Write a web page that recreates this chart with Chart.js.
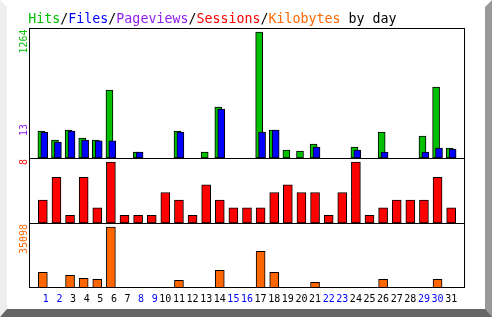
<!DOCTYPE html>
<html>
<head>
<meta charset="utf-8">
<script src="https://cdn.jsdelivr.net/npm/chart.js@4"></script>
<style>
    html, body { margin: 0; padding: 0; background: #fff; }
    .frame {
        width: 492px;
        height: 317px;
        box-sizing: border-box;
        border-style: solid;
        border-width: 7px 7px 8px 7px;
        border-color: #ffffff #999999 #666666 #eeeeee;
        background: #fff;
    }
    canvas { display: block; }
</style>
</head>
<body>
<div class="frame"><canvas id="dailyChart" width="478" height="302"></canvas></div>
<script>
// Daily values
const days = [1, 2, 3, 4, 5, 6, 7, 8, 9, 10, 11, 12, 13, 14, 15, 16, 17, 18, 19, 20, 21, 22, 23, 24, 25, 26, 27, 28, 29, 30, 31];
const weekendDays = [1, 2, 8, 9, 15, 16, 22, 23, 29, 30];
const hits = [271, 181, 281, 201, 181, 682, 0, 60, 0, 0, 271, 0, 60, 512, 0, 0, 1264, 281, 80, 70, 140, 0, 0, 110, 0, 261, 0, 0, 221, 712, 100];
const files = [258, 160, 271, 181, 171, 171, 0, 60, 0, 0, 261, 0, 0, 492, 0, 0, 261, 281, 0, 0, 110, 0, 0, 80, 0, 60, 0, 0, 60, 100, 90];
const sessions = [3, 6, 1, 6, 2, 8, 1, 1, 1, 4, 3, 1, 5, 3, 2, 2, 2, 4, 5, 4, 4, 1, 4, 8, 1, 2, 3, 3, 3, 6, 2];
const kilobytes = [9030, 0, 7300, 5580, 5000, 35098, 0, 0, 0, 0, 4430, 0, 0, 10180, 0, 0, 21100, 9030, 0, 0, 3280, 0, 0, 0, 0, 5000, 0, 0, 0, 5000, 0];

// Max labels drawn beside each panel
const hitsMaxLabel = '1264';
const pageviewsMaxLabel = '13';
const sessionsMaxLabel = '8';
const kilobytesMaxLabel = '35098';

const seriesNames = ['Hits', 'Files', 'Pageviews', 'Sessions', 'Kilobytes'];

// Colours
const COLORS = {
    hits: '#00c000',
    files: '#0000ff',
    pageviews: '#9020f0',
    sessions: '#ff0000',
    kilobytes: '#ff6600'
};
const MONO = '"DejaVu Sans Mono", "Liberation Mono", monospace';

// hits and files sit a little left/right of the day centre
const PAIR_SHIFT = 0.107;

function barSet(label, values, color, axis, shift, thickness) {
    return {
        label: label,
        data: days.map((d, i) => ({ x: d + shift, y: values[i] })),
        backgroundColor: color,
        borderColor: '#000',
        borderWidth: 1,
        borderSkipped: false,
        barThickness: thickness,
        grouped: false,
        yAxisID: axis
    };
}

function panelAxis(weight, max) {
    return {
        position: 'left',
        stack: 'day',
        stackWeight: weight,
        min: 0,
        max: max,
        ticks: { display: false },
        grid: { display: false },
        border: { display: false },
        afterFit: (s) => { s.width = 0; }
    };
}

// Frame round the plot and the lines between panels
const framePlugin = {
    id: 'frame',
    afterDatasetsDraw(chart) {
        const { ctx, chartArea: a, scales } = chart;
        const l = Math.round(a.left) + 0.5;
        const r = Math.round(a.right) - 0.5;
        ctx.save();
        ctx.strokeStyle = '#000';
        ctx.lineWidth = 1;
        ctx.strokeRect(l, Math.round(a.top) + 0.5, r - l, Math.round(a.bottom) - Math.round(a.top) - 1);
        [scales.ySessions, scales.yKilobytes].forEach(s => {
            const y = Math.round(s.top) + 0.5;
            ctx.beginPath();
            ctx.moveTo(l, y);
            ctx.lineTo(r, y);
            ctx.stroke();
        });
        ctx.restore();
    }
};

// Title and the rotated max labels
const labelPlugin = {
    id: 'labels',
    afterDraw(chart) {
        const { ctx, scales } = chart;
        ctx.save();
        ctx.font = '13.3px ' + MONO;
        ctx.textBaseline = 'alphabetic';
        ctx.textAlign = 'left';
        const parts = [];
        const keys = ['hits', 'files', 'pageviews', 'sessions', 'kilobytes'];
        seriesNames.forEach((name, i) => {
            if (i > 0) parts.push(['/', '#000']);
            parts.push([name, COLORS[keys[i]]]);
        });
        parts.push([' by day', '#000']);
        let x = 21.3;
        parts.forEach(([text, color]) => {
            ctx.fillStyle = color;
            ctx.fillText(text, x, 16);
            x += ctx.measureText(text).width;
        });

        ctx.font = '10px ' + MONO;
        const side = [
            [hitsMaxLabel, COLORS.hits, scales.yHits.top + 1.5],
            [pageviewsMaxLabel, COLORS.pageviews, scales.yHits.bottom - 34],
            [sessionsMaxLabel, COLORS.sessions, scales.ySessions.top + 1],
            [kilobytesMaxLabel, COLORS.kilobytes, scales.yKilobytes.top + 1]
        ];
        side.forEach(([text, color, y]) => {
            ctx.save();
            ctx.translate(19.5, y);
            ctx.rotate(-Math.PI / 2);
            ctx.textAlign = 'right';
            ctx.fillStyle = color;
            ctx.fillText(text, 0, 0);
            ctx.restore();
        });
        ctx.restore();
    }
};

const ctx = document.getElementById('dailyChart').getContext('2d');
const chart = new Chart(ctx, {
    type: 'bar',
    data: {
        datasets: [
            barSet('Files', files, COLORS.files, 'yHits', PAIR_SHIFT, 7),
            barSet('Hits', hits, COLORS.hits, 'yHits', -PAIR_SHIFT, 7),
            barSet('Sessions', sessions, COLORS.sessions, 'ySessions', 0, 9),
            barSet('Kilobytes', kilobytes, COLORS.kilobytes, 'yKilobytes', 0, 9)
        ]
    },
    options: {
        responsive: false,
        animation: false,
        devicePixelRatio: 1,
        layout: { padding: { left: 22, right: 20, top: 21, bottom: 0 } },
        plugins: {
            legend: { display: false },
            tooltip: { enabled: false },
            title: { display: false }
        },
        scales: {
            x: {
                type: 'linear',
                min: 0.5,
                max: 31.5,
                grid: { display: false, drawTicks: false },
                border: { display: false },
                afterBuildTicks: (s) => { s.ticks = days.map(d => ({ value: d })); },
                afterFit: (s) => { s.height = 21; },
                ticks: {
                    autoSkip: false,
                    maxRotation: 0,
                    padding: 5,
                    font: { family: MONO, size: 10 },
                    color: (c) => weekendDays.includes(c.tick.value) ? '#0000ff' : '#000',
                    callback: (v) => String(v).padStart(2, ' ')
                }
            },
            // stacked panels: the first one listed ends up at the bottom
            yKilobytes: panelAxis(1, Math.max(...kilobytes) * 65 / 61),
            ySessions: panelAxis(1, Math.max(...sessions) * 65 / 61),
            yHits: panelAxis(2, Math.max(...hits) * 130 / 126)
        }
    },
    plugins: [framePlugin, labelPlugin]
});
</script>
</body>
</html>
